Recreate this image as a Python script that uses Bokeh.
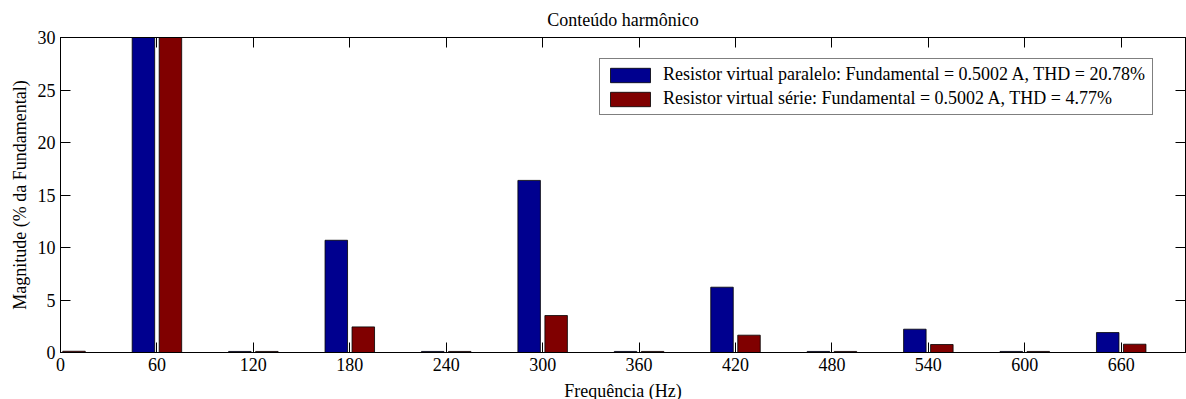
from bokeh.plotting import figure
from bokeh.models import ColumnDataSource, LinearAxis, Legend, LegendItem, FixedTicker, Range1d
from bokeh.transform import dodge
from bokeh.embed import file_html
from bokeh.resources import INLINE

# ---- data ----
frequencias = [0, 60, 120, 180, 240, 300, 360, 420, 480, 540, 600, 660]
paralelo = [0.12, 100.0, 0.10, 10.69, 0.10, 16.39, 0.10, 6.22, 0.10, 2.22, 0.10, 1.90]
serie = [0.12, 100.0, 0.10, 2.44, 0.10, 3.52, 0.10, 1.65, 0.10, 0.76, 0.10, 0.79]
x_ticks = [0, 60, 120, 180, 240, 300, 360, 420, 480, 540, 600, 660]
y_ticks = [0, 5, 10, 15, 20, 25, 30]
titulo = "Conteúdo harmônico"
rotulo_x = "Frequência (Hz)"
rotulo_y = "Magnitude (% da Fundamental)"
legenda_paralelo = "Resistor virtual paralelo: Fundamental = 0.5002 A, THD = 20.78%"
legenda_serie = "Resistor virtual série: Fundamental = 0.5002 A, THD = 4.77%"

FONT = "Liberation Serif"
FS = "18px"
BLUE = "#00008F"
RED = "#800000"

src = ColumnDataSource(dict(f=frequencias, par=paralelo, ser=serie))

p = figure(frame_width=1125, frame_height=315, output_backend="svg", toolbar_location=None,
           x_range=Range1d(0, 700), y_range=Range1d(0, 30),
           min_border_left=60, min_border_right=1, min_border_top=30, min_border_bottom=44)
p.background_fill_color = "white"
p.border_fill_color = "white"
p.outline_line_color = "black"
p.outline_line_width = 1
p.xgrid.visible = False
p.ygrid.visible = False

p.title.text = titulo
p.title.align = "center"
p.title.text_font = FONT
p.title.text_font_size = FS
p.title.text_font_style = "normal"
p.title.text_color = "black"
p.title.offset = 0
p.title.standoff = 15

r1 = p.vbar(x=dodge("f", -8.4, range=p.x_range), top="par", width=14.0, bottom=0,
            source=src, fill_color=BLUE, line_color="black", line_width=0.8)
r2 = p.vbar(x=dodge("f", 8.4, range=p.x_range), top="ser", width=14.0, bottom=0,
            source=src, fill_color=RED, line_color="black", line_width=0.8)

xa = p.xaxis[0]
xa.ticker = FixedTicker(ticks=x_ticks)
xa.axis_label = rotulo_x
ya = p.yaxis[0]
ya.ticker = FixedTicker(ticks=y_ticks)
ya.axis_label = rotulo_y

top_ax = LinearAxis(ticker=FixedTicker(ticks=x_ticks))
right_ax = LinearAxis(ticker=FixedTicker(ticks=y_ticks))
p.add_layout(top_ax, "above")
p.add_layout(right_ax, "right")

for ax in (xa, ya, top_ax, right_ax):
    ax.axis_line_color = "black"
    ax.axis_line_width = 1
    ax.major_tick_in = 10
    ax.major_tick_out = 0
    ax.major_tick_line_color = "black"
    ax.minor_tick_line_color = None
    ax.major_label_text_font = FONT
    ax.major_label_text_font_size = FS
    ax.major_label_text_color = "black"
    ax.axis_label_text_font = FONT
    ax.axis_label_text_font_size = FS
    ax.axis_label_text_font_style = "normal"
    ax.axis_label_text_color = "black"

xa.major_label_standoff = 5
xa.axis_label_standoff = 7
ya.major_label_standoff = 5
ya.axis_label_standoff = 5

for ax in (top_ax, right_ax):
    ax.major_label_text_color = None
    ax.major_label_text_font_size = "1px"
    ax.major_label_standoff = 0
    ax.axis_label = None

legend = Legend(items=[LegendItem(label=legenda_paralelo, renderers=[r1]),
                       LegendItem(label=legenda_serie, renderers=[r2])],
                location=(539, 237))
legend.label_text_font = FONT
legend.label_text_font_size = FS
legend.label_text_color = "black"
legend.glyph_width = 50
legend.glyph_height = 18
legend.label_height = 18
legend.label_width = 484
legend.label_standoff = 8
legend.spacing = 3
legend.padding = 5
legend.margin = 0
legend.border_line_color = "black"
legend.border_line_width = 1
legend.background_fill_color = "white"
legend.background_fill_alpha = 1
p.add_layout(legend, "center")

open("out.html", "w").write(file_html(p, INLINE))
